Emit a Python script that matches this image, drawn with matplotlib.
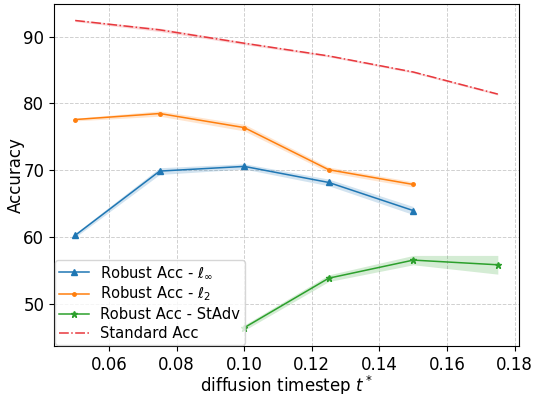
import numpy as np
import matplotlib
matplotlib.use("Agg")
import matplotlib.pyplot as plt

# diffusion timestep t* vs accuracy
t_linf = [0.05, 0.075, 0.1, 0.125, 0.15]
acc_linf = [60.3, 69.9, 70.6, 68.2, 64.0]
std_linf = [0.3, 0.5, 0.4, 0.5, 0.6]

t_l2 = [0.05, 0.075, 0.1, 0.125, 0.15]
acc_l2 = [77.6, 78.5, 76.4, 70.1, 67.9]
std_l2 = [0.2, 0.4, 0.5, 0.4, 0.4]

t_stadv = [0.1, 0.125, 0.15, 0.175]
acc_stadv = [46.5, 53.9, 56.6, 55.9]
std_stadv = [0.4, 0.5, 0.7, 1.4]

t_std = [0.05, 0.075, 0.1, 0.125, 0.15, 0.175]
acc_std = [92.4, 91.0, 89.0, 87.1, 84.7, 81.4]
std_std = [0.15, 0.25, 0.2, 0.15, 0.15, 0.15]

fig = plt.figure(figsize=(5.35, 3.94), dpi=100)
ax = fig.add_axes([0.101, 0.122, 0.869, 0.868])

series = [
    (t_linf, acc_linf, std_linf, 'tab:blue', '^', '-', r'Robust Acc - $\ell_\infty$'),
    (t_l2, acc_l2, std_l2, 'tab:orange', '.', '-', r'Robust Acc - $\ell_2$'),
    (t_stadv, acc_stadv, std_stadv, 'tab:green', '*', '-', 'Robust Acc - StAdv'),
    (t_std, acc_std, std_std, '#e8383d', None, '-.', 'Standard Acc'),
]
for t, a, s, c, m, ls, lab in series:
    t = np.array(t); a = np.array(a); s = np.array(s)
    ax.plot(t, a, color=c, marker=m, linestyle=ls, markersize=5, linewidth=1.1, label=lab)
    ax.fill_between(t, a - s, a + s, color=c, alpha=0.2, linewidth=0)

ax.grid(True, linestyle='--', color='#d0d0d0', linewidth=0.7)
ax.set_axisbelow(True)
ax.tick_params(labelsize=12)
ax.set_xlabel(r'diffusion timestep $t^*$', fontsize=12, labelpad=0)
ax.set_ylabel('Accuracy', fontsize=12, labelpad=-1)
ax.legend(loc='lower left', fontsize=10.6, borderaxespad=0.05, handlelength=2.0,
          labelspacing=0.25, borderpad=0.3, handletextpad=0.8)

fig.savefig('out.png', dpi=100)
